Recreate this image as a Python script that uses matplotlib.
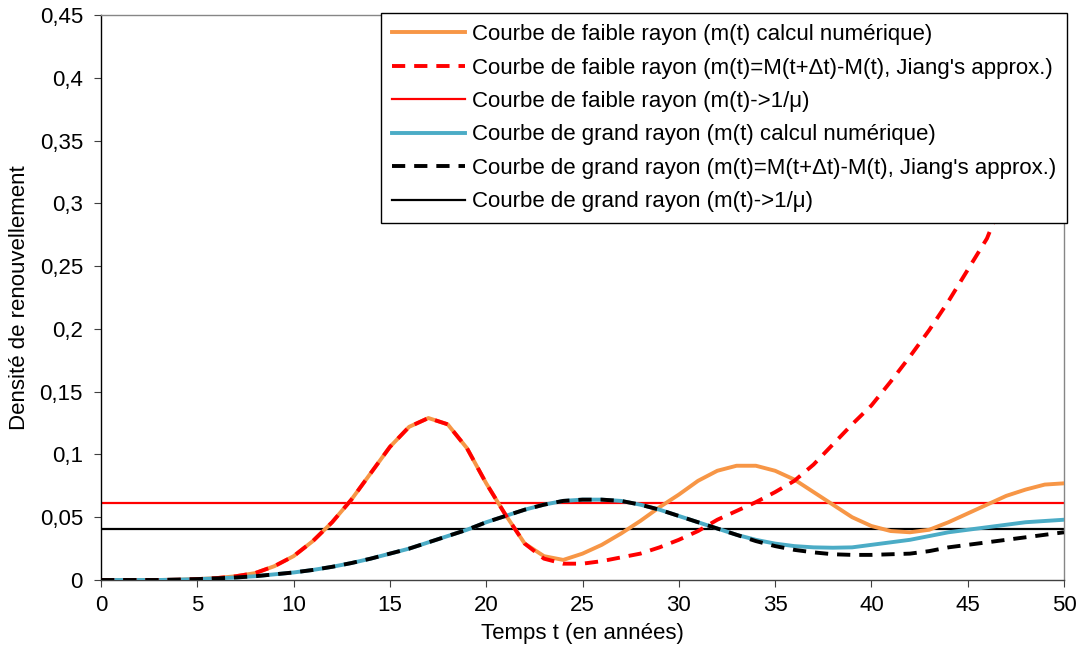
"""Renewal density curves: small vs large radius."""

import matplotlib

matplotlib.use("Agg")
import matplotlib.pyplot as plt
from matplotlib.ticker import FuncFormatter, MultipleLocator

t_years = list(range(0, 51))

small_numeric = [
    0.0, 0.0, 0.0, 0.0, 0.0002, 0.0007, 0.0015, 0.003, 0.0055, 0.011,
    0.019, 0.031, 0.046, 0.064, 0.085, 0.106, 0.122, 0.129, 0.124, 0.105,
    0.077, 0.052, 0.029, 0.019, 0.016, 0.021, 0.028, 0.037, 0.047, 0.058,
    0.068, 0.079, 0.087, 0.091, 0.091, 0.087, 0.080, 0.070, 0.060, 0.050,
    0.043, 0.039, 0.038, 0.040, 0.046, 0.053, 0.060, 0.067, 0.072, 0.076,
    0.077,
]
small_jiang = [
    0.0, 0.0, 0.0, 0.0, 0.0002, 0.0007, 0.0015, 0.003, 0.0055, 0.011,
    0.019, 0.031, 0.046, 0.064, 0.085, 0.106, 0.122, 0.129, 0.124, 0.105,
    0.077, 0.052, 0.029, 0.017, 0.013, 0.013, 0.015, 0.018, 0.021, 0.026,
    0.032, 0.039, 0.048, 0.055, 0.062, 0.070, 0.079, 0.092, 0.108, 0.124,
    0.139, 0.158, 0.178, 0.199, 0.222, 0.247, 0.272, 0.310, 0.350, 0.400,
    0.450,
]
large_numeric = [
    0.0, 0.0, 0.0, 0.0, 0.0003, 0.0007, 0.0013, 0.002, 0.003, 0.0045,
    0.006, 0.008, 0.0105, 0.0135, 0.017, 0.021, 0.025, 0.030, 0.035, 0.040,
    0.046, 0.051, 0.056, 0.060, 0.063, 0.064, 0.064, 0.063, 0.060, 0.056,
    0.051, 0.046, 0.041, 0.036, 0.032, 0.029, 0.027, 0.026, 0.0257, 0.026,
    0.028, 0.030, 0.032, 0.035, 0.038, 0.040, 0.042, 0.044, 0.046, 0.047,
    0.048,
]
large_jiang = [
    0.0, 0.0, 0.0, 0.0, 0.0003, 0.0007, 0.0013, 0.002, 0.003, 0.0045,
    0.006, 0.008, 0.0105, 0.0135, 0.017, 0.021, 0.025, 0.030, 0.035, 0.040,
    0.046, 0.051, 0.056, 0.060, 0.063, 0.064, 0.064, 0.063, 0.060, 0.056,
    0.051, 0.046, 0.041, 0.036, 0.031, 0.027, 0.024, 0.022, 0.0205, 0.020,
    0.020, 0.0205, 0.021, 0.023, 0.026, 0.028, 0.030, 0.032, 0.034, 0.036,
    0.038,
]
small_limit = 0.061
large_limit = 0.0406

labels = [
    "Courbe de faible rayon (m(t) calcul numérique)",
    "Courbe de faible rayon (m(t)=M(t+\u0394t)-M(t), Jiang's approx.)",
    "Courbe de faible rayon (m(t)->1/\u03bc)",
    "Courbe de grand rayon (m(t) calcul numérique)",
    "Courbe de grand rayon (m(t)=M(t+\u0394t)-M(t), Jiang's approx.)",
    "Courbe de grand rayon (m(t)->1/\u03bc)",
]

FS = 16

plt.rcParams["font.family"] = ["Liberation Sans", "DejaVu Sans"]
plt.rcParams["font.size"] = FS

fig = plt.figure(figsize=(10.85, 6.57), dpi=100)
ax = fig.add_axes([101 / 1085, 1 - 580 / 657, (1064 - 101) / 1085, (580 - 15) / 657])

ax.plot(t_years, small_numeric, color="#f79646", lw=2.8, label=labels[0], zorder=3)
ax.plot(t_years, small_jiang, color="#ff0000", lw=2.8, ls=(0, (3.4, 2.3)), label=labels[1], zorder=4)
ax.axhline(small_limit, color="#ff0000", lw=1.6, label=labels[2], zorder=2)
ax.plot(t_years, large_numeric, color="#4bacc6", lw=2.8, label=labels[3], zorder=3)
ax.plot(t_years, large_jiang, color="#000000", lw=2.8, ls=(0, (3.4, 2.3)), label=labels[4], zorder=4)
ax.axhline(large_limit, color="#000000", lw=1.6, label=labels[5], zorder=2)

ax.set_xlim(0, 50)
ax.set_ylim(0, 0.45)
ax.xaxis.set_major_locator(MultipleLocator(5))
ax.yaxis.set_major_locator(MultipleLocator(0.05))
ax.yaxis.set_major_formatter(FuncFormatter(lambda v, _: f"{v:.2f}".rstrip("0").rstrip(".").replace(".", ",")))

for side in ("top", "right"):
    ax.spines[side].set_color("#868686")
ax.spines["left"].set_color("#000000")
ax.spines["bottom"].set_color("#404040")
for sp in ax.spines.values():
    sp.set_linewidth(1.0)
ax.tick_params(direction="out", length=5, color="#404040", labelsize=FS)
ax.tick_params(axis="x", pad=6)
ax.tick_params(axis="y", pad=8)

ax.set_xlabel("Temps t (en années)", fontsize=FS, labelpad=5)
ax.set_ylabel("Densité de renouvellement", fontsize=FS, labelpad=7)

leg = ax.legend(
    loc="upper right",
    bbox_to_anchor=(1067 / 1085, 1 - 13 / 657),
    bbox_transform=fig.transFigure,
    frameon=True,
    fancybox=False,
    framealpha=1,
    edgecolor="#000000",
    fontsize=FS,
    handlelength=3.3,
    handletextpad=0.3,
    labelspacing=0.56,
    borderpad=0.5,
    borderaxespad=0,
)
leg.get_frame().set_linewidth(1.0)
leg.set_zorder(10)

fig.savefig("out.png", dpi=100)
